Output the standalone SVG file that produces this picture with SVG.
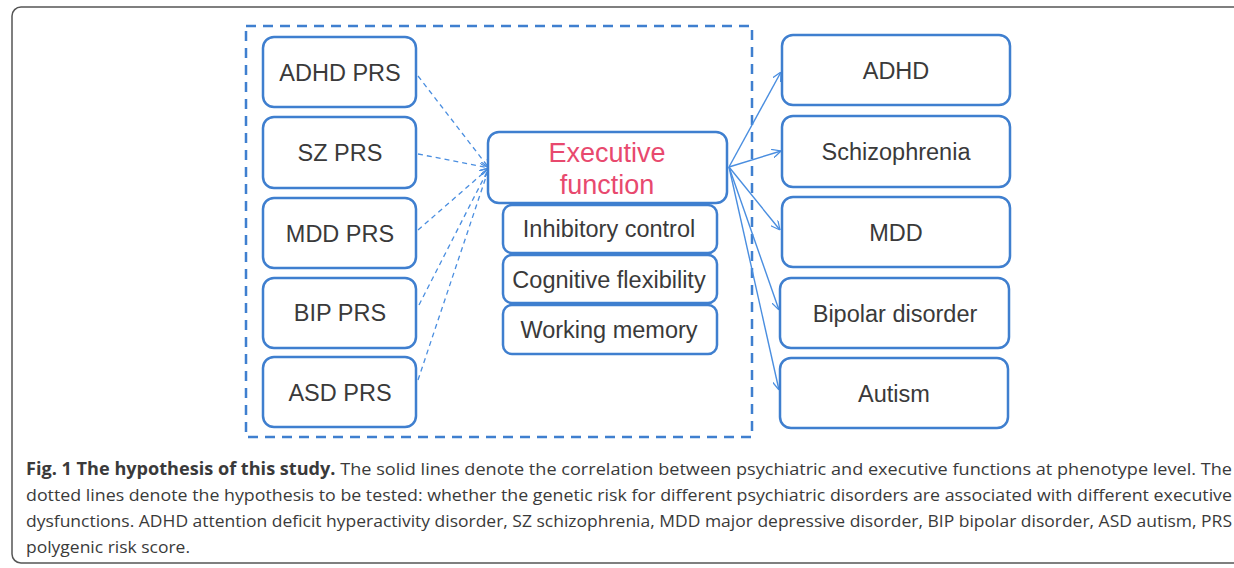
<svg xmlns="http://www.w3.org/2000/svg" width="1234" height="568" viewBox="0 0 1234 568">
<style>
.box{fill:#fff;stroke:#3f7fcf;stroke-width:2.5}
.lbl{font-family:"Liberation Sans",Arial,sans-serif;font-size:23.5px;fill:#3a3a3a;text-anchor:middle}
.ef{font-family:"Liberation Sans",Arial,sans-serif;font-size:27px;fill:#e8496e;text-anchor:middle}
.dash{fill:none;stroke:#4a8ee0;stroke-width:1.3;stroke-dasharray:5 4}
.solid{fill:none;stroke:#4a8ee0;stroke-width:1.4}
.cap{font-family:"Open Sans","Noto Sans",sans-serif;font-size:17px;fill:#3a3a3a}
</style>
<defs>
<marker id="ah" viewBox="0 0 10 10" refX="10" refY="5" markerWidth="9" markerHeight="9" markerUnits="userSpaceOnUse" orient="auto">
<path d="M0,0 L10,5 L0,10" fill="none" stroke="#4a8ee0" stroke-width="1.4"/>
</marker>
</defs>
<rect x="0" y="0" width="1234" height="568" fill="#fff"/>
<rect x="12" y="7" width="1250" height="556" rx="9" fill="none" stroke="#555" stroke-width="1.5"/>
<rect x="246" y="26" width="506" height="411" fill="none" stroke="#3f7fcf" stroke-width="2.5" stroke-dasharray="10 7"/>
<g id="connectors">
<line class="dash" x1="418" y1="76" x2="489" y2="168" marker-end="url(#ah)"/>
<line class="dash" x1="418" y1="154" x2="489" y2="168" marker-end="url(#ah)"/>
<line class="dash" x1="418" y1="230" x2="489" y2="168" marker-end="url(#ah)"/>
<line class="dash" x1="419" y1="305" x2="489" y2="168" marker-end="url(#ah)"/>
<line class="dash" x1="418" y1="380" x2="489" y2="168" marker-end="url(#ah)"/>
<line class="solid" x1="729" y1="167" x2="781" y2="72" marker-end="url(#ah)"/>
<line class="solid" x1="729" y1="167" x2="781" y2="151" marker-end="url(#ah)"/>
<line class="solid" x1="729" y1="167" x2="780" y2="230" marker-end="url(#ah)"/>
<line class="solid" x1="729" y1="167" x2="779" y2="310" marker-end="url(#ah)"/>
<line class="solid" x1="729" y1="167" x2="779" y2="390" marker-end="url(#ah)"/>
</g>
<g id="adhd_prs"><rect class="box" x="263" y="37" width="153" height="70" rx="11"/><text class="lbl" x="340" y="81">ADHD PRS</text></g>
<g id="sz_prs"><rect class="box" x="263" y="117" width="153" height="71" rx="11"/><text class="lbl" x="340" y="161">SZ PRS</text></g>
<g id="mdd_prs"><rect class="box" x="263" y="198" width="153" height="70" rx="11"/><text class="lbl" x="340" y="242">MDD PRS</text></g>
<g id="bip_prs"><rect class="box" x="263" y="278" width="153" height="70" rx="11"/><text class="lbl" x="340" y="321">BIP PRS</text></g>
<g id="asd_prs"><rect class="box" x="263" y="357" width="153" height="70" rx="11"/><text class="lbl" x="340" y="401">ASD PRS</text></g>
<g id="executive_function"><rect class="box" x="488" y="132" width="239" height="71" rx="11"/><text class="ef" x="607" y="162">Executive</text><text class="ef" x="607" y="194">function</text></g>
<g id="inhibitory_control"><rect class="box" x="503" y="205" width="214" height="48" rx="9"/><text class="lbl" x="609" y="237">Inhibitory  control</text></g>
<g id="cognitive_flexibility"><rect class="box" x="503" y="255" width="214" height="48" rx="9"/><text class="lbl" x="609" y="288">Cognitive flexibility</text></g>
<g id="working_memory"><rect class="box" x="503" y="305" width="214" height="49" rx="9"/><text class="lbl" x="609" y="338">Working memory</text></g>
<g id="adhd"><rect class="box" x="782" y="35" width="228" height="70" rx="11"/><text class="lbl" x="896" y="79">ADHD</text></g>
<g id="schizophrenia"><rect class="box" x="782" y="116" width="228" height="71" rx="11"/><text class="lbl" x="896" y="160">Schizophrenia</text></g>
<g id="mdd"><rect class="box" x="782" y="197" width="228" height="70" rx="11"/><text class="lbl" x="896" y="241">MDD</text></g>
<g id="bipolar_disorder"><rect class="box" x="780" y="278" width="229" height="70" rx="11"/><text class="lbl" x="895" y="322">Bipolar  disorder</text></g>
<g id="autism"><rect class="box" x="780" y="358" width="228" height="70" rx="11"/><text class="lbl" x="894" y="402">Autism</text></g>
<g id="caption">
<text class="cap" x="26" y="475" textLength="1206" lengthAdjust="spacingAndGlyphs"><tspan font-weight="bold">Fig. 1 The hypothesis of this study.</tspan> The solid lines denote the correlation between psychiatric and executive functions at phenotype level. The</text>
<text class="cap" x="26" y="501" textLength="1206" lengthAdjust="spacingAndGlyphs">dotted lines denote the hypothesis to be tested: whether the genetic risk for different psychiatric disorders are associated with different executive</text>
<text class="cap" x="26" y="527" textLength="1206" lengthAdjust="spacingAndGlyphs">dysfunctions. ADHD attention deficit hyperactivity disorder, SZ schizophrenia, MDD major depressive disorder, BIP bipolar disorder, ASD autism, PRS</text>
<text class="cap" x="26" y="553" textLength="164" lengthAdjust="spacingAndGlyphs">polygenic risk score.</text>
</g>
</svg>
